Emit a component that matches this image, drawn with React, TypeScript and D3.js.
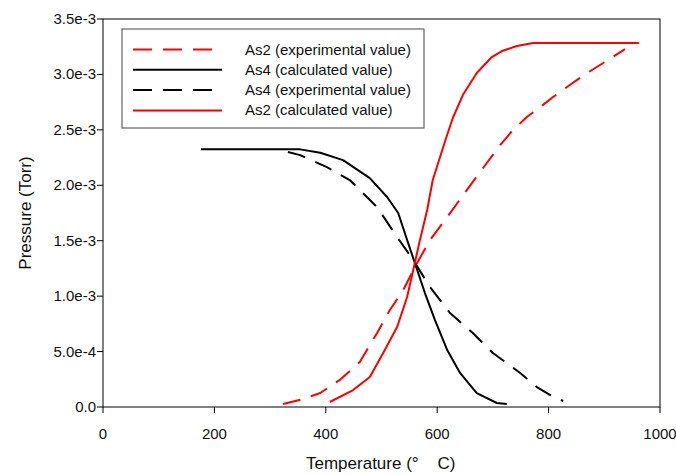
import React from "react";
import * as d3 from "d3";

// Temperature (°C) and vapour pressure (Torr, ×1e-3) readings per series
const as2ExpT = [323, 359, 390, 425, 461, 492, 515, 539, 560, 587, 618, 653, 689, 713, 736, 761, 785, 808, 838, 869, 898, 937];
const as2ExpP = [0.027, 0.072, 0.126, 0.244, 0.406, 0.667, 0.875, 1.055, 1.263, 1.506, 1.714, 1.957, 2.201, 2.363, 2.499, 2.616, 2.706, 2.796, 2.905, 3.013, 3.103, 3.229];

const as4CalcT = [176, 354, 390, 431, 479, 510, 530, 546, 560, 578, 596, 618, 641, 671, 707, 725];
const as4CalcP = [2.326, 2.324, 2.293, 2.227, 2.065, 1.894, 1.75, 1.506, 1.298, 1.028, 0.784, 0.514, 0.307, 0.126, 0.036, 0.027];

const as4ExpT = [332, 354, 402, 443, 492, 528, 557, 587, 623, 664, 700, 749, 779, 803, 826];
const as4ExpP = [2.3, 2.272, 2.164, 2.047, 1.803, 1.533, 1.326, 1.082, 0.848, 0.667, 0.487, 0.307, 0.18, 0.108, 0.054];

const as2CalcT = [407, 449, 479, 503, 528, 546, 557, 569, 582, 592, 616, 628, 646, 671, 698, 716, 743, 772, 962];
const as2CalcP = [0.045, 0.153, 0.271, 0.487, 0.722, 0.992, 1.236, 1.506, 1.777, 2.048, 2.427, 2.607, 2.814, 3.013, 3.157, 3.211, 3.256, 3.283, 3.283];

const xTicks = [0, 200, 400, 600, 800, 1000];
const yTicks = [0, 0.5e-3, 1.0e-3, 1.5e-3, 2.0e-3, 2.5e-3, 3.0e-3, 3.5e-3];
const yTickLabels = ["0.0", "5.0e-4", "1.0e-3", "1.5e-3", "2.0e-3", "2.5e-3", "3.0e-3", "3.5e-3"];

type Series = { name: string; t: number[]; p: number[]; color: string; dashed: boolean };

const series: Series[] = [
  { name: "As2 (experimental value)", t: as2ExpT, p: as2ExpP, color: "#ff0000", dashed: true },
  { name: "As4 (calculated value)", t: as4CalcT, p: as4CalcP, color: "#000000", dashed: false },
  { name: "As4 (experimental value)", t: as4ExpT, p: as4ExpP, color: "#000000", dashed: true },
  { name: "As2 (calculated value)", t: as2CalcT, p: as2CalcP, color: "#ff0000", dashed: false },
];

const W = 676;
const H = 475;
const plot = { left: 103, right: 660, top: 19, bottom: 407 };
const font = "'Liberation Sans', Arial, sans-serif";
const dash = "18,11";

export default function App() {
  const x = d3.scaleLinear().domain([0, 1000]).range([plot.left, plot.right]);
  const y = d3.scaleLinear().domain([0, 3.5e-3]).range([plot.bottom, plot.top]);
  const line = d3
    .line<[number, number]>()
    .x((d) => x(d[0]))
    .y((d) => y(d[1] * 1e-3))
    .curve(d3.curveLinear);

  const legend = { x: 122, y: 29, w: 302, h: 99 };

  return (
    <svg width={W} height={H} style={{ position: "absolute", left: 0, top: 0, background: "#fff" }} fontFamily={font}>
      {/* plot frame */}
      <rect
        x={plot.left}
        y={plot.top}
        width={plot.right - plot.left}
        height={plot.bottom - plot.top}
        fill="none"
        stroke="#000"
        strokeWidth={1}
      />
      {/* x axis ticks */}
      {xTicks.map((t) => (
        <g key={"x" + t}>
          <line x1={x(t)} x2={x(t)} y1={plot.bottom} y2={plot.bottom + 6} stroke="#000" />
          <text x={x(t)} y={plot.bottom + 32} fontSize={15} textAnchor="middle" fill="#111">
            {t}
          </text>
        </g>
      ))}
      {/* y axis ticks */}
      {yTicks.map((t, i) => (
        <g key={"y" + i}>
          <line x1={plot.left - 6} x2={plot.left} y1={y(t)} y2={y(t)} stroke="#000" />
          <text x={plot.left - 7} y={y(t) + 5} fontSize={15} textAnchor="end" fill="#111">
            {yTickLabels[i]}
          </text>
        </g>
      ))}
      <text x={306} y={469} fontSize={17} textAnchor="start" fill="#111" style={{ whiteSpace: "pre" }}>
        {"Temperature (°    C)"}
      </text>
      <text
        transform={`translate(31,${(plot.top + plot.bottom) / 2}) rotate(-90)`}
        fontSize={17}
        textAnchor="middle"
        fill="#111"
      >
        Pressure (Torr)
      </text>

      {/* curves */}
      {series.map((s) => (
        <path
          key={s.name}
          d={line(s.t.map((t, i) => [t, s.p[i]] as [number, number])) || ""}
          fill="none"
          stroke={s.color}
          strokeWidth={2}
          strokeDasharray={s.dashed ? dash : undefined}
          strokeLinejoin="round"
        />
      ))}

      {/* legend */}
      <rect x={legend.x} y={legend.y} width={legend.w} height={legend.h} fill="#fff" stroke="#444" strokeWidth={1} />
      {series.map((s, i) => {
        const ly = 49.5 + i * 20.3;
        return (
          <g key={"lg" + i}>
            <line
              x1={133}
              x2={222}
              y1={ly}
              y2={ly}
              stroke={s.color}
              strokeWidth={2}
              strokeDasharray={s.dashed ? "19,11" : undefined}
            />
            <text x={245} y={ly + 5} fontSize={15} fill="#111">
              {s.name}
            </text>
          </g>
        );
      })}
    </svg>
  );
}
